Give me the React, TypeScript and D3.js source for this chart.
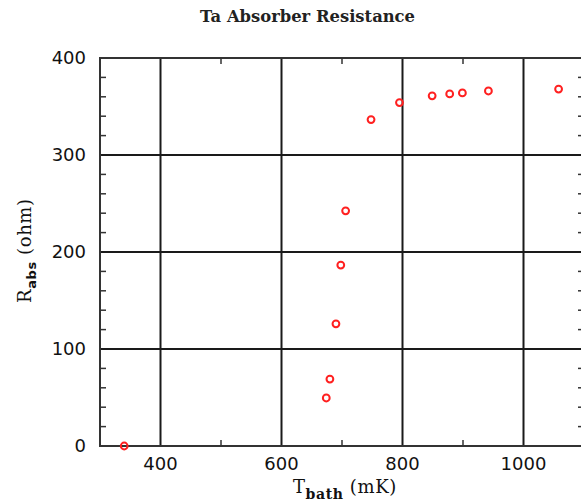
import React from "react";
import * as d3 from "d3";

const tBath = [340, 674, 680, 690, 698, 706, 748, 795, 849, 878, 899, 942, 1058];
const rAbs = [0, 49.5, 69, 126, 186.5, 242.5, 336.5, 354, 361, 363, 364, 366, 368];
const xMajor = [400, 600, 800, 1000];
const xMinor = [500, 700, 900];
const yMajor = [0, 100, 200, 300, 400];
const yMinor = d3.range(20, 400, 20).filter((v) => v % 100 !== 0);

const W = 581;
const H = 501;

export default function App() {
  const x = d3.scaleLinear().domain([300, 1100]).range([100, 584]);
  const y = d3.scaleLinear().domain([0, 400]).range([446, 58]);
  const left = x(300), right = x(1100), top = y(400), bottom = y(0);
  const tickFont = "'DejaVu Sans', sans-serif";
  const serif = "'DejaVu Serif', serif";
  return (
    <svg width={W} height={H} style={{ position: "absolute", left: 0, top: 0, background: "#fff" }}>
      <text x={307.5} y={22} textAnchor="middle" fontFamily={serif} fontSize={17} fontWeight="bold" textLength={215} lengthAdjust="spacingAndGlyphs" fill="#222">
        Ta Absorber Resistance
      </text>
      {/* grid */}
      {xMajor.map((v) => (
        <line key={"gx" + v} x1={x(v)} x2={x(v)} y1={top} y2={bottom} stroke="#1a1a1a" strokeWidth={2} />
      ))}
      {yMajor.filter((v) => v > 0 && v < 400).map((v) => (
        <line key={"gy" + v} x1={left} x2={right} y1={y(v)} y2={y(v)} stroke="#1a1a1a" strokeWidth={2} />
      ))}
      {/* minor ticks */}
      {yMinor.map((v) => (
        <g key={"my" + v}>
          <line x1={left} x2={left + 6} y1={y(v)} y2={y(v)} stroke="#333" strokeWidth={1.5} />
          <line x1={right} x2={right - 6} y1={y(v)} y2={y(v)} stroke="#333" strokeWidth={1.5} />
        </g>
      ))}
      {xMinor.map((v) => (
        <g key={"mx" + v}>
          <line x1={x(v)} x2={x(v)} y1={bottom} y2={bottom - 6} stroke="#333" strokeWidth={1.5} />
          <line x1={x(v)} x2={x(v)} y1={top} y2={top + 6} stroke="#333" strokeWidth={1.5} />
        </g>
      ))}
      {/* frame */}
      <rect x={left} y={top} width={right - left} height={bottom - top} fill="none" stroke="#333" strokeWidth={2} />
      {/* tick labels */}
      {yMajor.map((v) => (
        <text key={"ly" + v} x={86} y={y(v)} dy="0.36em" textAnchor="end" fontFamily={tickFont} fontSize={18} fill="#111">
          {v}
        </text>
      ))}
      {xMajor.map((v) => (
        <text key={"lx" + v} x={x(v)} y={469.5} textAnchor="middle" fontFamily={tickFont} fontSize={18} fill="#111">
          {v}
        </text>
      ))}
      {/* axis titles */}
      <text x={293} y={493} fontFamily={serif} fontSize={18} letterSpacing={0.6} fill="#111">
        T
        <tspan fontSize={14} dy={6} fontWeight="bold">bath</tspan>
        <tspan dy={-6}> (mK)</tspan>
      </text>
      <text transform="translate(31,303) rotate(-90)" fontFamily={serif} fontSize={18} letterSpacing={0.6} fill="#111">
        R
        <tspan fontSize={13} dy={5} fontFamily={tickFont} fontWeight="bold">abs</tspan>
        <tspan dy={-5}> (ohm)</tspan>
      </text>
      {/* points */}
      {tBath.map((t, i) => (
        <circle key={"p" + i} cx={x(t)} cy={y(rAbs[i])} r={3.4} fill="none" stroke="#ff2020" strokeWidth={2} />
      ))}
    </svg>
  );
}
